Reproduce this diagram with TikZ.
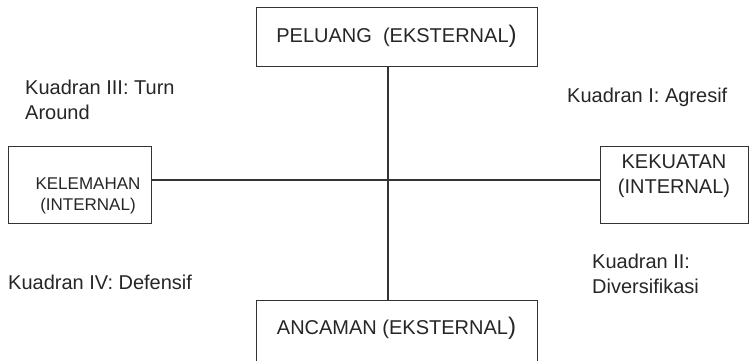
\documentclass[tikz,border=0pt]{standalone}
\usepackage{fontspec}
\setmainfont{Liberation Sans}
\begin{document}
\begin{tikzpicture}[x=1pt,y=-1pt,
  box/.style={draw=black!80, line width=1pt, rectangle, inner sep=0pt},
  txt/.style={text=black!85, font=\fontsize{20}{25}\selectfont, align=left, inner sep=0pt},
  ln/.style={draw=black!80, line width=1.2pt}]
\clip (0,0) rectangle (751,360);
\fill[white] (0,0) rectangle (751,360);
% boxes
\node[box, minimum width=281pt, minimum height=59pt] (pel) at (396.5,36.5) {};
\node[box, minimum width=281pt, minimum height=64pt] (anc) at (396.5,332) {};
\node[box, minimum width=143pt, minimum height=77pt] (kel) at (79.5,184.5) {};
\node[box, minimum width=148pt, minimum height=77pt] (kek) at (674,184.5) {};
% box texts
\node[txt, anchor=center] (tpel) at (396.5,36) {PELUANG~~(EKSTERNAL{\fontsize{24}{24}\selectfont)}};
\node[txt, anchor=center] (tanc) at (396.5,328) {ANCAMAN (EKSTERNAL{\fontsize{24}{24}\selectfont)}};
\node[txt, align=center, font=\fontsize{17}{21}\selectfont] (tkel) at (88,196) {KELEMAHAN\\(INTERNAL)};
\node[txt, align=center] (tkek) at (674,176) {KEKUATAN\\(INTERNAL)};
% axes
\coordinate (c) at (388,180);
\draw[ln] (c |- pel.south) -- (c |- anc.north);
\draw[ln] (kel.east |- c) -- (kek.west |- c);
% quadrant labels
\node[txt, anchor=north west] (q3) at (25,80) {Kuadran III: Turn\\Around};
\node[txt, anchor=west] (q1) at (567,97) {Kuadran I: Agresif};
\node[txt, anchor=west] (q4) at (8,282) {Kuadran IV: Defensif};
\node[txt, anchor=north west] (q2) at (592,254) {Kuadran II:\\Diversifikasi};
\end{tikzpicture}
\end{document}
